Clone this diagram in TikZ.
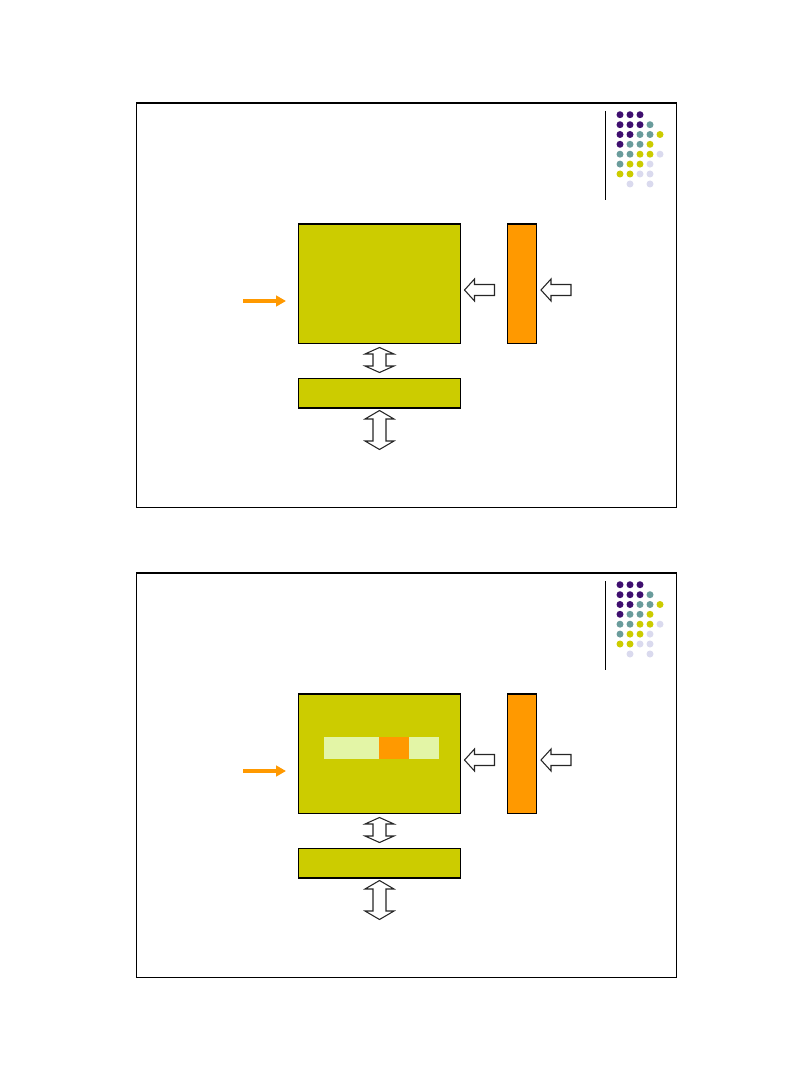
\documentclass[tikz,border=0pt]{standalone}
\usetikzlibrary{arrows.meta}
\definecolor{olive}{HTML}{CCCC00}
\definecolor{orng}{HTML}{FF9900}
\definecolor{lgreen}{HTML}{E3F5A6}
\definecolor{dpurple}{HTML}{3F0F6F}
\definecolor{teal2}{HTML}{6A9C9C}
\definecolor{ydot}{HTML}{CCCC00}
\definecolor{lav}{HTML}{DADAEE}
\tikzset{
  frame/.style={draw=black,line width=0.9pt},
  bigbox/.style={draw=black,fill=olive,line width=0.8pt,inner sep=0,minimum width=162*0.75pt,minimum height=119*0.75pt,anchor=north west},
  smallbox/.style={draw=black,fill=olive,line width=0.8pt,inner sep=0,minimum width=162*0.75pt,minimum height=29.5*0.75pt,anchor=north west},
  orbar/.style={draw=black,fill=orng,line width=0.8pt,inner sep=0,minimum width=29*0.75pt,minimum height=119*0.75pt,anchor=north west},
  hollow/.style={draw=black!85,fill=white,line width=0.8pt,line join=miter},
  inarrow/.style={draw=orng,line width=2.3pt,-{Triangle[length=7.5pt,width=8pt]}},
  dotP/.style={fill=dpurple}, dotT/.style={fill=teal2}, dotY/.style={fill=ydot}, dotL/.style={fill=lav}
}
\newcommand{\hlarrow}[2]{% tip x, center y
  \draw[hollow] (#1,#2) -- ++(10,-11) -- ++(0,5.5) -- ++(20,0) -- ++(0,11) -- ++(-20,0) -- ++(0,5.5) -- cycle;}
\newcommand{\dvarrow}[4]{% cx, top, bottom, head length
  \draw[hollow] (#1,#2) -- (#1+14.5,#2+#4) -- (#1+6.5,#2+#4) -- (#1+6.5,#3-#4) -- (#1+14.5,#3-#4) -- (#1,#3)
   -- (#1-14.5,#3-#4) -- (#1-6.5,#3-#4) -- (#1-6.5,#2+#4) -- (#1-14.5,#2+#4) -- cycle;}
\begin{document}
\begin{tikzpicture}[x=0.75pt,y=-0.75pt]
\useasboundingbox (0,0) rectangle (810,1080);
\foreach \o/\s in {0/a,470/b}{
  \begin{scope}[yshift=-\o*0.75pt]
  % frame
  \node[frame,inner sep=0,minimum width=540*0.75pt,minimum height=404*0.75pt,anchor=north west] (frame\s) at (136,103) {};
  \draw[line width=1.6pt] (frame\s.north west) -- (frame\s.north east);
  % logo line
  \coordinate (lt\s) at (605.5,111);
  \coordinate (lb\s) at (605.5,200);
  \draw[line width=0.8pt] (lt\s) -- (lb\s);
  % dots
  \foreach \x/\y/\k in {
    620/114.7/P,630/114.7/P,640/114.7/P,
    620/124.7/P,630/124.7/P,640/124.7/P,650/124.7/T,
    620/134.5/P,630/134.5/P,640/134.5/T,650/134.5/T,660/134.5/Y,
    620/144.3/P,630/144.3/T,640/144.3/T,650/144.3/Y,
    620/154.2/T,630/154.2/T,640/154.2/Y,650/154.2/Y,660/154.2/L,
    620/164.1/T,630/164.1/Y,640/164.1/Y,650/164.1/L,
    620/174/Y,630/174/Y,640/174/L,650/174/L,
    630/184/L,650/184/L}{
    \fill[dot\k] (\x,\y) circle (3.5);
  }
  % boxes
  \node[bigbox] (big\s) at (298,224) {};
  \draw[line width=1.6pt] (big\s.north west) -- (big\s.north east);
  \node[orbar] (bar\s) at (507,224) {};
  \draw[line width=1.6pt] (bar\s.north west) -- (bar\s.north east);
  \node[smallbox] (small\s) at (298,377.7) {};
  \draw[line width=1.6pt] (small\s.south west) -- (small\s.south east);
  % orange input arrow
  \coordinate (in\s) at (243,301);
  \coordinate (inend\s) at (286,301);
  \draw[inarrow] (in\s) -- (inend\s);
  % hollow arrows
  \hlarrow{464.5}{290}
  \hlarrow{541}{290}
  \dvarrow{379.5}{347.5}{372.5}{6.5}
  \dvarrow{379.5}{410.5}{449.5}{8.5}
  \end{scope}
}
% inner strips on the second slide
\node[fill=lgreen,inner sep=0,minimum width=55*0.75pt,minimum height=22*0.75pt,anchor=north west] (s1) at (324,737) {};
\node[fill=orng,inner sep=0,minimum width=30*0.75pt,minimum height=22*0.75pt,anchor=north west] (s2) at (379,737) {};
\node[fill=lgreen,inner sep=0,minimum width=29.5*0.75pt,minimum height=22*0.75pt,anchor=north west] (s3) at (409,737) {};
\end{tikzpicture}
\end{document}
